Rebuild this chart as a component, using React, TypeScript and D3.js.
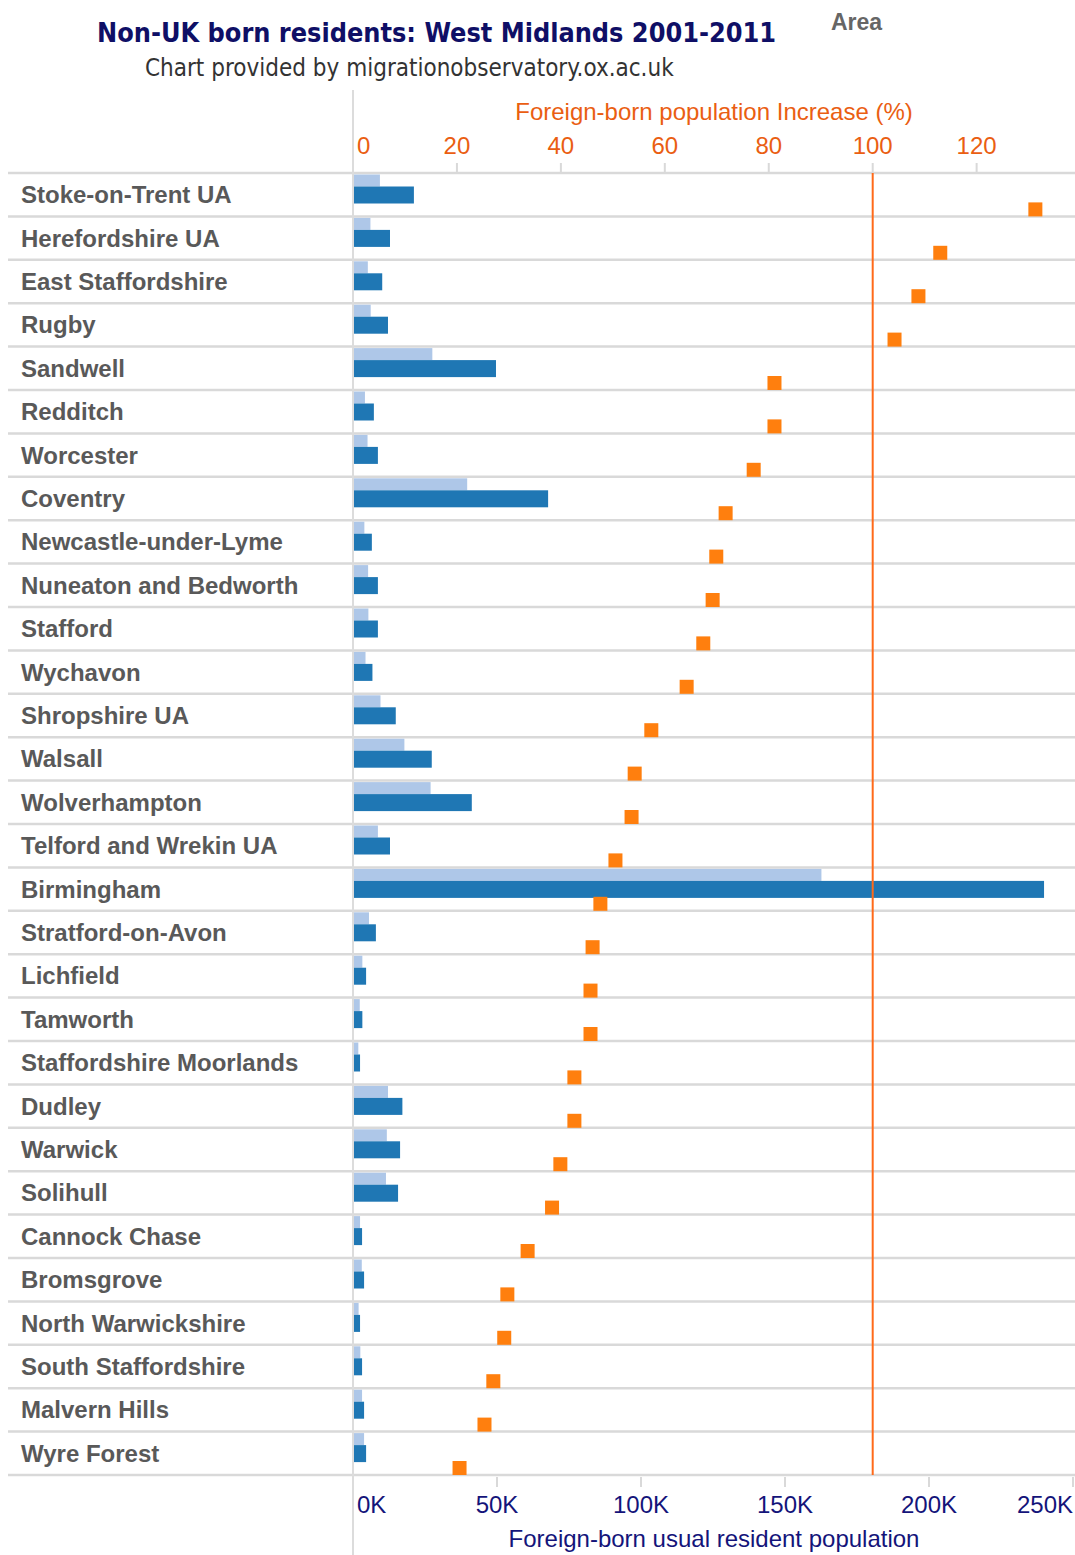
import React from 'react';
import * as d3 from 'd3';

const areas = [
  'Stoke-on-Trent UA', 'Herefordshire UA', 'East Staffordshire', 'Rugby', 'Sandwell',
  'Redditch', 'Worcester', 'Coventry', 'Newcastle-under-Lyme', 'Nuneaton and Bedworth',
  'Stafford', 'Wychavon', 'Shropshire UA', 'Walsall', 'Wolverhampton',
  'Telford and Wrekin UA', 'Birmingham', 'Stratford-on-Avon', 'Lichfield', 'Tamworth',
  'Staffordshire Moorlands', 'Dudley', 'Warwick', 'Solihull', 'Cannock Chase',
  'Bromsgrove', 'North Warwickshire', 'South Staffordshire', 'Malvern Hills', 'Wyre Forest',
];

const pop2001 = [
  9000, 5700, 4800, 5800, 27200,
  3800, 4700, 39300, 3600, 4900,
  5000, 4000, 9200, 17500, 26600,
  8300, 162300, 5200, 2900, 2000,
  1500, 11800, 11400, 11100, 2100,
  2700, 1600, 2200, 2800, 3500,
];

const pop2011 = [
  20800, 12500, 9800, 11800, 49300,
  6900, 8300, 67400, 6200, 8300,
  8300, 6400, 14500, 27000, 40900,
  12500, 239600, 7600, 4200, 2900,
  2100, 16800, 16000, 15300, 2800,
  3500, 2100, 2800, 3500, 4200,
];

const pctIncrease = [
  131.3, 113.0, 108.8, 104.2, 81.1,
  81.1, 77.1, 71.7, 69.9, 69.2,
  67.4, 64.2, 57.4, 54.2, 53.6,
  50.5, 47.6, 46.1, 45.7, 45.7,
  42.6, 42.6, 39.9, 38.3, 33.6,
  29.7, 29.1, 27.0, 25.3, 20.5,
];

const pctTicks = [0, 20, 40, 60, 80, 100, 120];
const popTicks = [0, 50000, 100000, 150000, 200000, 250000];
const referencePct = 100;

const SANS = '"Liberation Sans", Arial, sans-serif';
const TITLE_FONT = '"DejaVu Sans Condensed", "DejaVu Sans", sans-serif';

export default function App() {
  const W = 1075;
  const H = 1555;
  const left = 353;
  const right = 1075;
  const top = 173;
  const bottom = 1475;

  const xPop = d3.scaleLinear().domain([0, 250000]).range([left, 1073]);
  const xPct = d3.scaleLinear().domain([0, 100]).range([left, 872.7]);
  const y = d3.scaleBand<string>().domain(areas).range([top, bottom]).paddingInner(0).paddingOuter(0);
  const bw = y.bandwidth();

  const navy = '#14147a';
  const orangeText = '#ea5e12';
  const grid = '#d9d9d9';

  const rowLines = areas.map((a) => y(a) as number).concat([bottom]);

  return (
    <svg width={W} height={H} style={{ position: 'absolute', left: 0, top: 0, background: '#fff' }}>
      <rect x={0} y={0} width={W} height={H} fill="#fff" />
      {/* Titles */}
      <text x={97} y={42} fontFamily={TITLE_FONT} fontWeight="bold" fontSize={26.8} fill="#0f0f66">
        Non-UK born residents: West Midlands 2001-2011
      </text>
      <text x={145} y={76} fontFamily={TITLE_FONT} fontSize={24} fill="#333">
        Chart provided by migrationobservatory.ox.ac.uk
      </text>
      <text x={831} y={30} fontFamily={SANS} fontWeight="bold" fontSize={23} fill="#666">
        Area
      </text>

      {/* Top axis */}
      <text x={(left + right) / 2} y={120} textAnchor="middle" fontFamily={SANS} fontSize={24} fill={orangeText}>
        Foreign-born population Increase (%)
      </text>
      {pctTicks.map((t, i) => (
        <g key={'pt' + t}>
          {i > 0 && <line x1={xPct(t)} x2={xPct(t)} y1={163} y2={173} stroke={grid} strokeWidth={2} />}
          <text
            x={i === 0 ? xPct(t) + 4 : xPct(t)}
            y={154}
            textAnchor={i === 0 ? 'start' : 'middle'}
            fontFamily={SANS}
            fontSize={24}
            fill={orangeText}
          >
            {t}
          </text>
        </g>
      ))}

      {/* Row lines */}
      {rowLines.map((ry, i) => (
        <line key={'rl' + i} x1={8} x2={right} y1={ry} y2={ry} stroke={grid} strokeWidth={2.5} />
      ))}

      {/* Axis line */}
      <line x1={left} x2={left} y1={90} y2={H} stroke="#dcdcdc" strokeWidth={2} />

      {/* Row labels */}
      {areas.map((a) => (
        <text
          key={'lb' + a}
          x={21}
          y={(y(a) as number) + bw / 2 + 8.5}
          fontFamily={SANS}
          fontWeight="bold"
          fontSize={24}
          fill="#595959"
        >
          {a}
        </text>
      ))}

      {/* Bars */}
      {areas.map((a, i) => {
        const y0 = y(a) as number;
        return (
          <g key={'b' + a}>
            <rect x={xPop(0) + 1} y={y0 + 1.5} width={xPop(pop2001[i]) - xPop(0)} height={12} fill="#aec7e8" />
            <rect x={xPop(0) + 1} y={y0 + 13.5} width={xPop(pop2011[i]) - xPop(0)} height={17} fill="#1f77b4" />
          </g>
        );
      })}

      {/* Reference line at 100% */}
      <line x1={xPct(referencePct)} x2={xPct(referencePct)} y1={top} y2={bottom} stroke="#ff6a1a" strokeWidth={2} />

      {/* Squares */}
      {areas.map((a, i) => {
        const y0 = y(a) as number;
        return (
          <rect key={'s' + a} x={xPct(pctIncrease[i]) - 7} y={y0 + bw - 14} width={14} height={14} fill="#ff7f0e" />
        );
      })}

      {/* Bottom axis */}
      {popTicks.map((t, i) => (
        <g key={'bt' + t}>
          {i > 0 && <line x1={xPop(t)} x2={xPop(t)} y1={bottom + 2} y2={bottom + 12} stroke={grid} strokeWidth={2} />}
          <text
            x={i === 0 ? xPop(t) + 4 : i === popTicks.length - 1 ? 1073 : xPop(t)}
            y={1513}
            textAnchor={i === 0 ? 'start' : i === popTicks.length - 1 ? 'end' : 'middle'}
            fontFamily={SANS}
            fontSize={24}
            fill={navy}
          >
            {`${t / 1000}K`}
          </text>
        </g>
      ))}
      <text x={(left + right) / 2} y={1547} textAnchor="middle" fontFamily={SANS} fontSize={24} fill={navy}>
        Foreign-born usual resident population
      </text>
    </svg>
  );
}
